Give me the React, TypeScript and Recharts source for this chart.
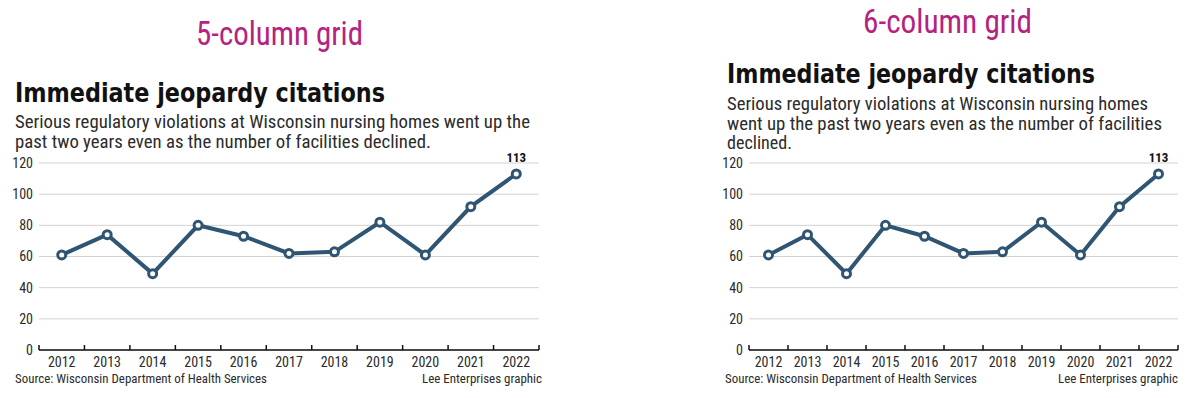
import React from 'react';
import { LineChart, Line, XAxis, YAxis, CartesianGrid, LabelList } from 'recharts';

const years = ['2012', '2013', '2014', '2015', '2016', '2017', '2018', '2019', '2020', '2021', '2022'];
const citations = [61, 74, 49, 80, 73, 62, 63, 82, 61, 92, 113];
const yTicks = [0, 20, 40, 60, 80, 100, 120];

const NARROW = '"Liberation Sans Narrow", "Roboto Condensed", Roboto, sans-serif';
const HEAVY = '"DejaVu Sans Condensed", "DejaVu Sans", sans-serif';
const LINE = '#2f5573';
const INK = '#2b2b2b';
const PINK = '#b5237f';

const data = years.map((year, i) => ({ i, year, value: citations[i] }));
// tick lines sit between the years, labels on the years
const xTicks = years.flatMap((_, i) => [i - 0.5, i]).concat(years.length - 0.5);

const XTick = (props: any) => {
  const { x, y, payload } = props;
  const v = payload.value;
  if (!Number.isInteger(v)) {
    return <line x1={x} x2={x} y1={y} y2={y - 5} stroke="#111" strokeWidth={1.5} />;
  }
  return (
    <text x={x} y={y + 17} textAnchor="middle" fontFamily={NARROW} fontSize={14} fill={INK}>
      {years[v]}
    </text>
  );
};

const lastLabel = (props: any) => {
  const { x, y, index, value } = props;
  if (index !== citations.length - 1) return null;
  return (
    <text x={x} y={y - 12} textAnchor="middle" fontFamily={NARROW} fontSize={13} fontWeight="bold" fill="#111">
      {value}
    </text>
  );
};

function Chart({ width, yWidth, right }: { width: number; yWidth: number; right: number }) {
  return (
    <LineChart width={width} height={230} data={data} margin={{ top: 13, right, left: 0, bottom: 0 }}>
      <CartesianGrid vertical={false} stroke="#d2d2d2" />
      <YAxis
        domain={[0, 120]}
        ticks={yTicks}
        width={yWidth}
        axisLine={false}
        tickLine={false}
        tickMargin={0}
        tick={{ fontFamily: NARROW, fontSize: 14, fill: INK }}
      />
      <XAxis
        dataKey="i"
        type="number"
        domain={[-0.5, years.length - 0.5]}
        ticks={xTicks}
        interval={0}
        height={30}
        tickSize={0}
        tickMargin={0}
        tickLine={false}
        axisLine={{ stroke: '#111', strokeWidth: 1.5 }}
        tick={<XTick />}
      />
      <Line
        dataKey="value"
        stroke={LINE}
        strokeWidth={4}
        dot={{ r: 4, fill: '#fff', stroke: LINE, strokeWidth: 3 }}
        isAnimationActive={false}
      >
        <LabelList dataKey="value" content={lastLabel} />
      </Line>
    </LineChart>
  );
}

// text stretched to the widths measured on the reference
const T = ({ x, y, w, size, children, anchor = 'start', fill = INK, bold = false, family = NARROW }: any) => (
  <text
    x={x}
    y={y}
    textAnchor={anchor}
    fontSize={size}
    fontFamily={family}
    fontWeight={bold ? 'bold' : 'normal'}
    fill={fill}
    textLength={w}
    lengthAdjust="spacingAndGlyphs"
  >
    {children}
  </text>
);

export default function App() {
  return (
    <div style={{ position: 'absolute', left: 0, top: 0, width: 1200, height: 398, background: '#fff' }}>
      <svg width={1200} height={398} style={{ position: 'absolute', left: 0, top: 0 }}>
        {/* left: 5-column */}
        <T x={196} y={45} w={167} size={33} fill={PINK}>5-column grid</T>
        <T x={15} y={102} w={370} size={27} bold fill="#111" family={HEAVY}>Immediate jeopardy citations</T>
        <T x={15} y={128} w={515} size={18}>Serious regulatory violations at Wisconsin nursing homes went up the</T>
        <T x={15} y={148} w={416} size={18}>past two years even as the number of facilities declined.</T>
        <T x={15} y={383} w={252} size={13}>Source: Wisconsin Department of Health Services</T>
        <T x={422} y={383} w={120} size={13}>Lee Enterprises graphic</T>

        {/* right: 6-column */}
        <T x={863} y={33} w={169} size={33} fill={PINK}>6-column grid</T>
        <T x={727} y={83} w={368} size={27} bold fill="#111" family={HEAVY}>Immediate jeopardy citations</T>
        <T x={727} y={110} w={421} size={18}>Serious regulatory violations at Wisconsin nursing homes</T>
        <T x={727} y={130} w={435} size={18}>went up the past two years even as the number of facilities</T>
        <T x={727} y={149} w={65} size={18}>declined.</T>
        <T x={725} y={383} w={252} size={13}>Source: Wisconsin Department of Health Services</T>
        <T x={1058} y={383} w={120} size={13}>Lee Enterprises graphic</T>
      </svg>
      <div style={{ position: 'absolute', left: 0, top: 150 }}>
        <Chart width={560} yWidth={39} right={21} />
      </div>
      <div style={{ position: 'absolute', left: 700, top: 150 }}>
        <Chart width={500} yWidth={49} right={22} />
      </div>
    </div>
  );
}
